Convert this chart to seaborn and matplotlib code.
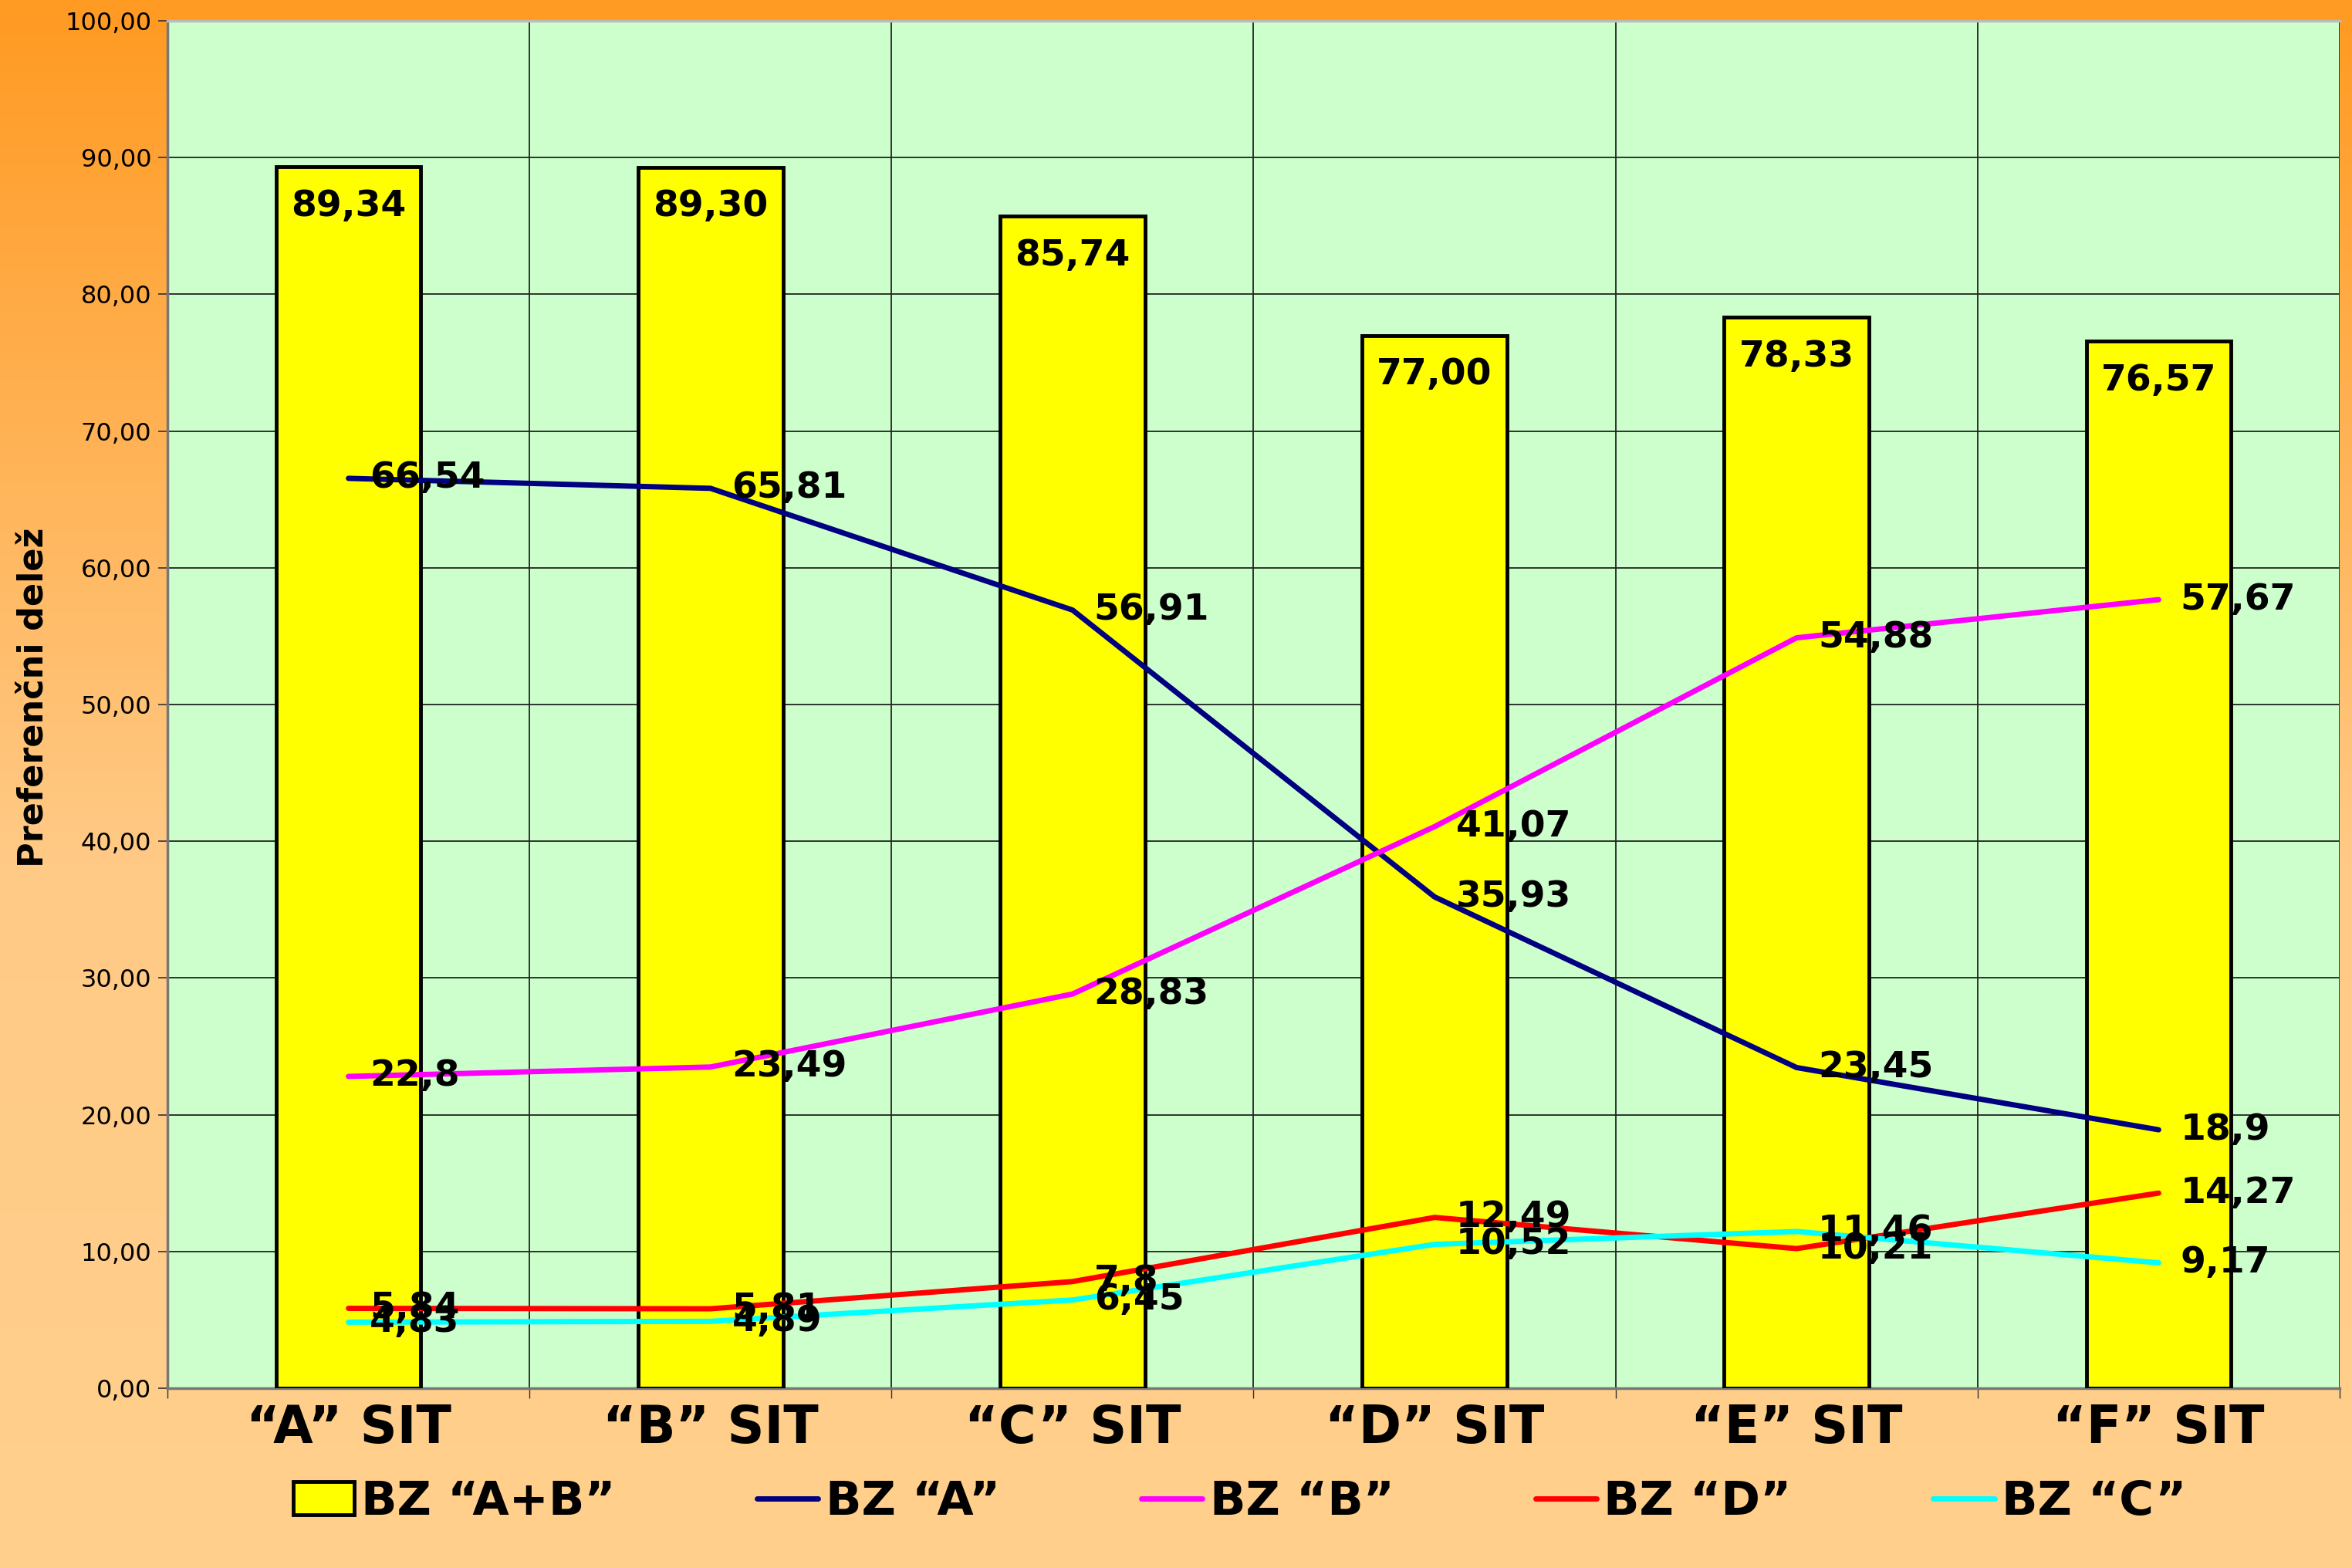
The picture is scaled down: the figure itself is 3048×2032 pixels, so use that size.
import numpy as np
import matplotlib
matplotlib.use("Agg")
import matplotlib.pyplot as plt
import seaborn as sns
from matplotlib.patches import Patch
from matplotlib.lines import Line2D
from matplotlib.colors import LinearSegmentedColormap

# ---------------- data ----------------
categories = ["“A” SIT", "“B” SIT", "“C” SIT", "“D” SIT", "“E” SIT", "“F” SIT"]
bz_ab = [89.34, 89.30, 85.74, 77.00, 78.33, 76.57]
bz_a = [66.54, 65.81, 56.91, 35.93, 23.45, 18.9]
bz_b = [22.8, 23.49, 28.83, 41.07, 54.88, 57.67]
bz_d = [5.84, 5.81, 7.8, 12.49, 10.21, 14.27]
bz_c = [4.83, 4.89, 6.45, 10.52, 11.46, 9.17]
y_ticks = [0, 10, 20, 30, 40, 50, 60, 70, 80, 90, 100]
y_label = "Preferenčni delež"
series_names = ["BZ “A+B”", "BZ “A”", "BZ “B”", "BZ “D”", "BZ “C”"]

def fmt(v):
    s = ("%g" % v) if abs(v * 100 - round(v * 100)) < 1e-9 else str(v)
    return s.replace(".", ",")

sns.set_theme(style="white")
plt.rcParams["font.family"] = ["DejaVu Sans"]
plt.rcParams["text.color"] = "black"
plt.rcParams["axes.labelcolor"] = "black"
plt.rcParams["xtick.color"] = "black"
plt.rcParams["ytick.color"] = "black"

fig = plt.figure(figsize=(30.48, 20.32), dpi=100)

# background gradient
bg = fig.add_axes([0, 0, 1, 1], zorder=-10)
cmap = LinearSegmentedColormap.from_list(
    "bg", [(0.0, "#FF9A22"), (0.55, "#FFCA86"), (1.0, "#FFD08C")])
grad = np.linspace(0, 1, 256).reshape(-1, 1)
bg.imshow(grad, aspect="auto", cmap=cmap, extent=[0, 1, 0, 1], origin="upper")
bg.set_axis_off()

ax = fig.add_axes([217 / 3048, 1 - 1799 / 2032, (3032 - 217) / 3048, (1799 - 27) / 2032])
ax.set_facecolor("#CCFFCC")

x = np.arange(len(categories))
sns.barplot(x=categories, y=bz_ab, color="#FFFF00", width=0.4,
            edgecolor="black", linewidth=3.5, saturation=1, ax=ax, zorder=3)

line_series = [(bz_a, "#000080"), (bz_b, "#FF00FF"), (bz_d, "#FF0000"), (bz_c, "#00FFFF")]
for vals, col in line_series:
    sns.lineplot(x=x, y=vals, color=col, linewidth=5, ax=ax, zorder=4,
                 estimator=None, sort=False)

# data labels
for xi, v in zip(x, bz_ab):
    ax.annotate(("%.2f" % v).replace(".", ","), (xi, v), xytext=(0, -37),
                textcoords="offset points", ha="center", va="center",
                fontsize=34, fontweight="bold", color="black", zorder=6)
for vals, col in line_series:
    for xi, v in zip(x, vals):
        ax.annotate(fmt(v), (xi, v), xytext=(20, 0), textcoords="offset points",
                    ha="left", va="center", fontsize=34, fontweight="bold",
                    color="black", zorder=6)

ax.set_xlim(-0.5, len(categories) - 0.5)
ax.set_ylim(0, 100)
ax.set_yticks(y_ticks)
ax.set_yticklabels([("%.2f" % t).replace(".", ",") for t in y_ticks], fontsize=23, color="black")
ax.set_xticks(x)
ax.set_xticklabels(categories, fontsize=48, fontweight="bold", color="black")
ax.set_xticks(np.arange(len(categories) + 1) - 0.5, minor=True)
ax.tick_params(axis="x", which="major", length=0, pad=14)
ax.tick_params(axis="x", which="minor", length=9, width=1, color="#333333", direction="out", bottom=True)
ax.tick_params(axis="y", which="major", length=9, width=1.2, color="#333333", direction="out", left=True, pad=6)

ax.grid(False)
ax.yaxis.grid(True, color="#222222", linewidth=1.3, zorder=0)
ax.xaxis.grid(True, which="minor", color="#222222", linewidth=1.3, zorder=0)
ax.set_axisbelow(True)

for side in ["left", "bottom"]:
    ax.spines[side].set_color("#777777")
    ax.spines[side].set_linewidth(2.5)
ax.spines["top"].set_color("#BBBBBB")
ax.spines["top"].set_linewidth(2.5)
ax.spines["right"].set_visible(False)

ax.set_ylabel(y_label, fontsize=32, fontweight="bold", color="black")
ax.yaxis.set_label_coords(-0.054, 0.505)
ax.set_xlabel("")

handles = [Patch(facecolor="#FFFF00", edgecolor="black", linewidth=3.5)]
for vals, col in line_series:
    handles.append(Line2D([0], [0], color=col, linewidth=5))
leg = fig.legend(handles, series_names, loc="center", bbox_to_anchor=(0.527, 0.042),
                 ncol=5, frameon=False, prop={"size": 44, "weight": "bold"},
                 handlelength=1.3, handletextpad=0.15, columnspacing=3.0)
for t in leg.get_texts():
    t.set_color("black")

fig.savefig("out.png", dpi=100)
